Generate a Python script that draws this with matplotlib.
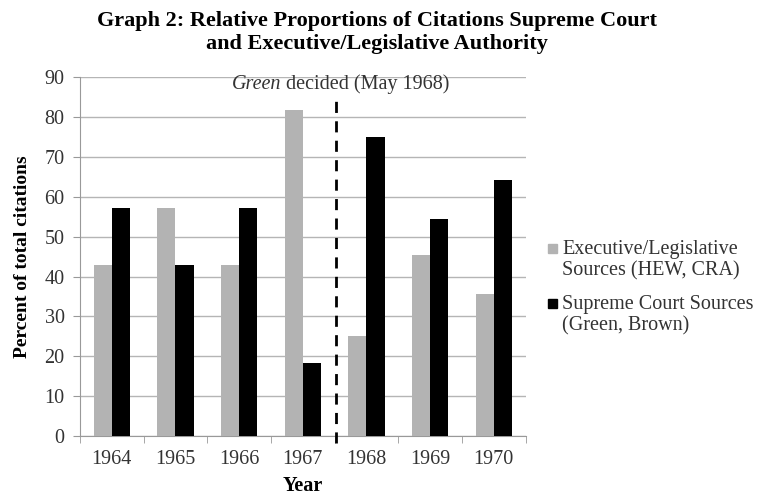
import matplotlib
matplotlib.use("Agg")
import matplotlib.pyplot as plt
from matplotlib.patches import Rectangle
import numpy as np

years = ["1964", "1965", "1966", "1967", "1968", "1969", "1970"]
exec_leg = [42.9, 57.1, 42.9, 81.8, 25.0, 45.5, 35.7]
supreme = [57.1, 42.9, 57.1, 18.2, 75.0, 54.5, 64.3]
yticks = [0, 10, 20, 30, 40, 50, 60, 70, 80, 90]
labels = ['Executive/Legislative\nSources (HEW, CRA)', 'Supreme Court Sources\n(Green, Brown)']
colors = ['#b3b3b3', '#000000']

plt.rcParams['font.family'] = ['Liberation Serif', 'DejaVu Serif']
W, H = 758, 497
fig = plt.figure(figsize=(7.58, 4.97), dpi=100)
ax = fig.add_axes([0.1055, 0.1227, 0.588, 0.722])

x = np.arange(len(years))
w = 0.285
ax.bar(x - w/2, exec_leg, w, color=colors[0], zorder=3)
ax.bar(x + w/2, supreme, w, color=colors[1], zorder=3)

ax.set_xlim(-0.5, len(years) - 0.5)
ax.set_ylim(0, 90)
ax.set_yticks(yticks)
ax.set_yticklabels([str(t) for t in yticks], fontsize=14.5, color='#333333')
ax.set_xticks(x)
ax.set_xticklabels(years, fontsize=14.5, color='#333333')
ax.tick_params(axis='x', length=0, pad=10)
ax.set_xticks(np.arange(-0.5, len(years) + 0.5, 1), minor=True)
ax.tick_params(axis='x', which='minor', length=5, color='#999999')
ax.tick_params(axis='y', length=5, color='#999999', pad=6)

ax.grid(axis='y', color='#b5b5b5', linewidth=1, zorder=0)
for s in ['top', 'right']:
    ax.spines[s].set_visible(False)
for s in ['left', 'bottom']:
    ax.spines[s].set_color('#999999')

ax.plot([3.52, 3.52], [-0.02, 0.94], transform=ax.get_xaxis_transform(),
        color='black', linestyle=(0, (4, 3)), linewidth=2, clip_on=False, zorder=4)

t1 = ax.text(1.89, 88.2, 'Green', fontsize=14.5, style='italic', ha='left', va='center', color='#333333')
fig.canvas.draw()
bb = t1.get_window_extent()
xr = ax.transData.inverted().transform((bb.x1 + 4, 0))[0]
ax.text(xr, 88.2, 'decided (May 1968)', fontsize=14.5, ha='left', va='center', color='#333333')

ax.set_ylabel('Percent of total citations', fontsize=14, fontweight='bold', labelpad=10)
ax.set_xlabel('Year', fontsize=14.5, fontweight='bold', labelpad=5)

fig.suptitle('Graph 2: Relative Proportions of Citations Supreme Court\nand Executive/Legislative Authority',
             fontsize=16, fontweight='bold', x=0.497, y=0.978, linespacing=1.2)

# legend (square aligned with first line, as in the original)
tops = [240, 295]
for lab, col, top in zip(labels, colors, tops):
    fig.text(562 / W, 1 - top / H, lab, fontsize=14.5, color='#333333',
             ha='left', va='top', linespacing=1.15)
    fig.patches.append(Rectangle((548 / W, 1 - (top + 13) / H), 9 / W, 9 / H,
                                 transform=fig.transFigure, color=col, figure=fig))

fig.savefig('out.png', dpi=100)
